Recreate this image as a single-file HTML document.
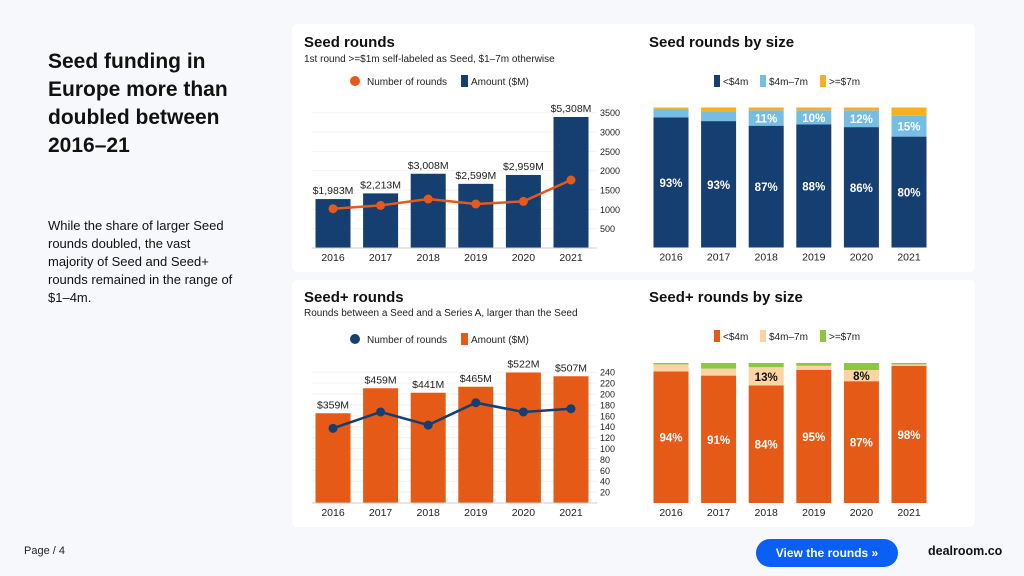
<!DOCTYPE html>
<html><head><meta charset="utf-8">
<style>
body{margin:0;width:1024px;height:576px;background:#f7f8fc;font-family:"Liberation Sans",sans-serif;overflow:hidden;position:relative}
.t{position:absolute;margin:0}
</style></head><body>
<h1 class="t" style="left:48px;top:48px;font-size:21px;line-height:28px;font-weight:bold;color:#111;width:200px">Seed funding in Europe more than doubled between 2016–21</h1>
<p class="t" style="left:48px;top:217px;font-size:13px;line-height:18px;color:#111;width:188px">While the share of larger Seed rounds doubled, the vast majority of Seed and Seed+ rounds remained in the range of $1–4m.</p>
<div class="t" style="left:24px;top:545px;font-size:11px;color:#222">Page / 4</div>
<div class="t" style="left:756px;top:539px;width:142px;height:28px;border-radius:14px;background:#0a5ff5;color:#fff;font-size:12px;font-weight:bold;text-align:center;line-height:28px">View the rounds »</div>
<div class="t" style="left:928px;top:544px;font-size:12.5px;font-weight:bold;color:#111">dealroom.co</div>
<svg id="s" width="1024" height="576" style="position:absolute;left:0;top:0;pointer-events:none" font-family="Liberation Sans, sans-serif"></svg>
<script>
const years=["2016","2017","2018","2019","2020","2021"];
const seedAmount=[1983,2213,3008,2599,2959,5308];
const seedCount=[1016,1102,1267,1138,1205,1759];
const seedTicks=[500,1000,1500,2000,2500,3000,3500];
const plusAmount=[359,459,441,465,522,507];
const plusCount=[137,167,143,184,167,173];
const plusTicks=[20,40,60,80,100,120,140,160,180,200,220,240];
const seedSmall=[93,93,87,88,86,80];
const seedMid=[6,7,11,10,12,15];
const seedLarge=[1,3,2,2,2,6];
const plusSmall=[94,91,84,95,87,98];
const plusMid=[5,5,13,3,8,1];
const plusLarge=[1,4,3,2,5,1];

const S=document.getElementById('s');const NS="http://www.w3.org/2000/svg";
function el(tag,attrs,name,parent){const e=document.createElementNS(NS,tag);for(const k in attrs)e.setAttribute(k,attrs[k]);


(parent||S).appendChild(e);return e;}
function txt(x,y,s,name,o){const e=el('text',Object.assign({x:x,y:y,'font-size':11,fill:'#222'},o||{}),name);e.textContent=s;return e;}

el('rect',{x:292,y:24,width:683,height:248,rx:6,fill:'#fff'},'top-card');
el('rect',{x:292,y:280,width:683,height:247,rx:6,fill:'#fff'},'bottom-card');

function xc(i,x0){return x0+i*47.6;}

function comboChart(o){
  txt(304,o.titleY,o.title,'chart-title',{'font-size':15,'font-weight':'bold',fill:'#111'});
  txt(304,o.subY,o.sub,'chart-subtitle',{'font-size':10});
  el('circle',{cx:355,cy:o.legY-4,r:5,fill:o.lineC},'legend-line-marker');
  txt(367,o.legY,'Number of rounds','legend-line-label',{'font-size':10});
  el('rect',{x:461,y:o.legY-10,width:7,height:12,fill:o.barC},'legend-bar-marker');
  txt(471,o.legY,'Amount ($M)','legend-bar-label',{'font-size':10});
  const base=o.base;
  const ay=v=>base-v*o.axScale;
  o.ticks.forEach(t=>{el('line',{x1:312,x2:597,y1:ay(t),y2:ay(t),stroke:'#f2f2f2'},'gridline');
    txt(600,ay(t)+3.5,String(t),'y-tick-label',{'font-size':o.tfs});});
  const by=v=>base-v*o.barScale;
  o.amount.forEach((v,i)=>{const x=xc(i,333);
    el('rect',{x:x-17.5,y:by(v),width:35,height:base-by(v),fill:o.barC},'bar-'+years[i]);
    txt(x,by(v)-5,'$'+v.toLocaleString('en-US')+'M','bar-value-label',{'text-anchor':'middle','font-size':10.5});
    txt(x,base+13,years[i],'x-tick-label',{'text-anchor':'middle','font-size':10.5});});
  el('line',{x1:312,x2:597,y1:base,y2:base,stroke:'#ccc'},'x-axis-line');
  const pts=o.count.map((v,i)=>xc(i,333)+','+ay(v)).join(' ');
  el('polyline',{points:pts,fill:'none',stroke:o.lineC,'stroke-width':2.5},'count-line');
  o.count.forEach((v,i)=>el('circle',{cx:xc(i,333),cy:ay(v),r:4.5,fill:o.lineC},'count-point-'+years[i]));
}
comboChart({title:'Seed rounds',titleY:47,sub:'1st round >=$1m self-labeled as Seed, $1–7m otherwise',subY:62,legY:85,lineC:'#e5591a',barC:'#153e71',
 base:248,axScale:19.33/500,barScale:131/5308,ticks:seedTicks,amount:seedAmount,count:seedCount,tfs:9});
comboChart({title:'Seed+ rounds',titleY:302,sub:'Rounds between a Seed and a Series A, larger than the Seed',subY:316,legY:343,lineC:'#153e71',barC:'#e55a17',
 base:503,axScale:10.9/20,barScale:130.5/522,ticks:plusTicks,amount:plusAmount,count:plusCount,tfs:9});

function stackChart(o){
  txt(649,o.titleY,o.title,'chart-title',{'font-size':15,'font-weight':'bold',fill:'#111'});
  const ly=o.legY;const labs=['<$4m','$4m–7m','>=$7m'];const lx=[714,760,820];
  labs.forEach((l,k)=>{el('rect',{x:lx[k],y:ly-10,width:6,height:12,fill:o.cols[k]},'legend-marker');
    txt(lx[k]+9,ly,l,'legend-label',{'font-size':10});});
  const top=o.top,h=140;
  years.forEach((yr,i)=>{const x=xc(i,671);const vals=[o.a[i],o.b[i],o.c[i]];const sum=vals[0]+vals[1]+vals[2];
    let yb=top+h;
    vals.forEach((v,k)=>{const hh=v/sum*h;
      el('rect',{x:x-17.5,y:yb-hh,width:35,height:hh,fill:o.cols[k]},'segment-'+yr+'-'+k);
      if(k<2&&v>=8) txt(x,yb-hh/2+4.5,v+'%','segment-label',{'text-anchor':'middle','font-size':11.5,'font-weight':'bold',fill:o.lblC[k]});
      yb-=hh;});
    txt(x,top+h+13,yr,'x-tick-label',{'text-anchor':'middle','font-size':10.5});});
}
stackChart({title:'Seed rounds by size',titleY:47,legY:85,top:107.5,cols:['#153e71','#74bde3','#f7ae1f'],lblC:['#fff','#fff'],a:seedSmall,b:seedMid,c:seedLarge});
stackChart({title:'Seed+ rounds by size',titleY:302,legY:340,top:363,cols:['#e55a17','#fdd3a4','#8dc63f'],lblC:['#fff','#111'],a:plusSmall,b:plusMid,c:plusLarge});
</script>
</body></html>
